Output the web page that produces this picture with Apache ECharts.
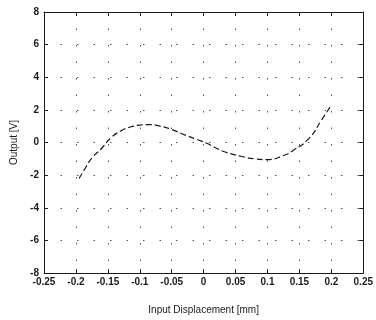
<!DOCTYPE html>
<html>
<head>
<meta charset="utf-8">
<script src="https://cdn.jsdelivr.net/npm/echarts@6/dist/echarts.min.js"></script>
<style>
  html, body { margin: 0; padding: 0; background: #fff; }
  #chart { width: 376px; height: 320px; }
</style>
</head>
<body>
<div id="chart"></div>
<script>
// Input displacement [mm] and output [V]
const displacement = [
  -0.195, -0.185, -0.175, -0.16, -0.145, -0.13, -0.115, -0.1, -0.085, -0.07,
  -0.05, -0.035, -0.01, 0.005, 0.02, 0.035, 0.06, 0.08, 0.1, 0.125,
  0.14, 0.165, 0.185, 0.2
];
const output = [
  -2.2, -1.55, -0.95, -0.37, 0.3, 0.7, 0.95, 1.07, 1.1, 1.02,
  0.8, 0.55, 0.18, -0.05, -0.35, -0.6, -0.86, -1.0, -1.05, -0.8,
  -0.49, 0.25, 1.4, 2.3
];

const xRange = { min: -0.25, max: 0.25, step: 0.05 };
const yRange = { min: -8, max: 8, step: 2 };

const ink = "#1a1a1a";
const font = "Liberation Sans, Arial, sans-serif";

const chart = echarts.init(document.getElementById("chart"), null, { renderer: "canvas" });

function fmt(v) {
  return String(parseFloat(v.toFixed(2)));
}

const gridDots = { color: "#555", width: 1, type: [1.5, 15] };

const option = {
  animation: false,
  backgroundColor: "#fff",
  grid: { left: 44, right: 8, top: 12, bottom: 47 },
  xAxis: [
    {
      type: "value",
      min: xRange.min,
      max: xRange.max,
      interval: xRange.step,
      name: "Input Displacement [mm]",
      nameLocation: "middle",
      nameGap: 32,
      nameTextStyle: { color: ink, fontSize: 10, fontFamily: font },
      axisLine: { show: true, onZero: false, lineStyle: { color: ink, width: 1 } },
      axisTick: { show: true, inside: true, length: 4, lineStyle: { color: ink } },
      axisLabel: {
        color: ink, fontSize: 10, fontWeight: "bold", fontFamily: font, margin: 4,
        formatter: fmt
      },
      splitLine: { show: true, lineStyle: gridDots }
    },
    {
      type: "value",
      position: "top",
      min: xRange.min,
      max: xRange.max,
      interval: xRange.step,
      axisLine: { show: true, onZero: false, lineStyle: { color: ink, width: 1 } },
      axisTick: { show: true, inside: true, length: 4, lineStyle: { color: ink } },
      axisLabel: { show: false },
      splitLine: { show: false }
    }
  ],
  yAxis: [
    {
      type: "value",
      min: yRange.min,
      max: yRange.max,
      interval: yRange.step,
      name: "Output [V]",
      nameLocation: "middle",
      nameGap: 25,
      nameTextStyle: { color: ink, fontSize: 10, fontFamily: font },
      axisLine: { show: true, onZero: false, lineStyle: { color: ink, width: 1 } },
      axisTick: { show: true, inside: true, length: 4, lineStyle: { color: ink } },
      axisLabel: { color: ink, fontSize: 10, fontWeight: "bold", fontFamily: font, margin: 5 },
      splitLine: { show: true, lineStyle: gridDots }
    },
    {
      type: "value",
      position: "right",
      min: yRange.min,
      max: yRange.max,
      interval: yRange.step,
      axisLine: { show: true, onZero: false, lineStyle: { color: ink, width: 1 } },
      axisTick: { show: true, inside: true, length: 4, lineStyle: { color: ink } },
      axisLabel: { show: false },
      splitLine: { show: false }
    }
  ],
  series: [
    {
      name: "Output",
      type: "line",
      xAxisIndex: 0,
      yAxisIndex: 0,
      data: displacement.map((x, i) => [x, output[i]]),
      smooth: true,
      symbol: "none",
      lineStyle: { color: ink, width: 1.2, type: [6, 3] }
    }
  ]
};

chart.setOption(option);
</script>
</body>
</html>
